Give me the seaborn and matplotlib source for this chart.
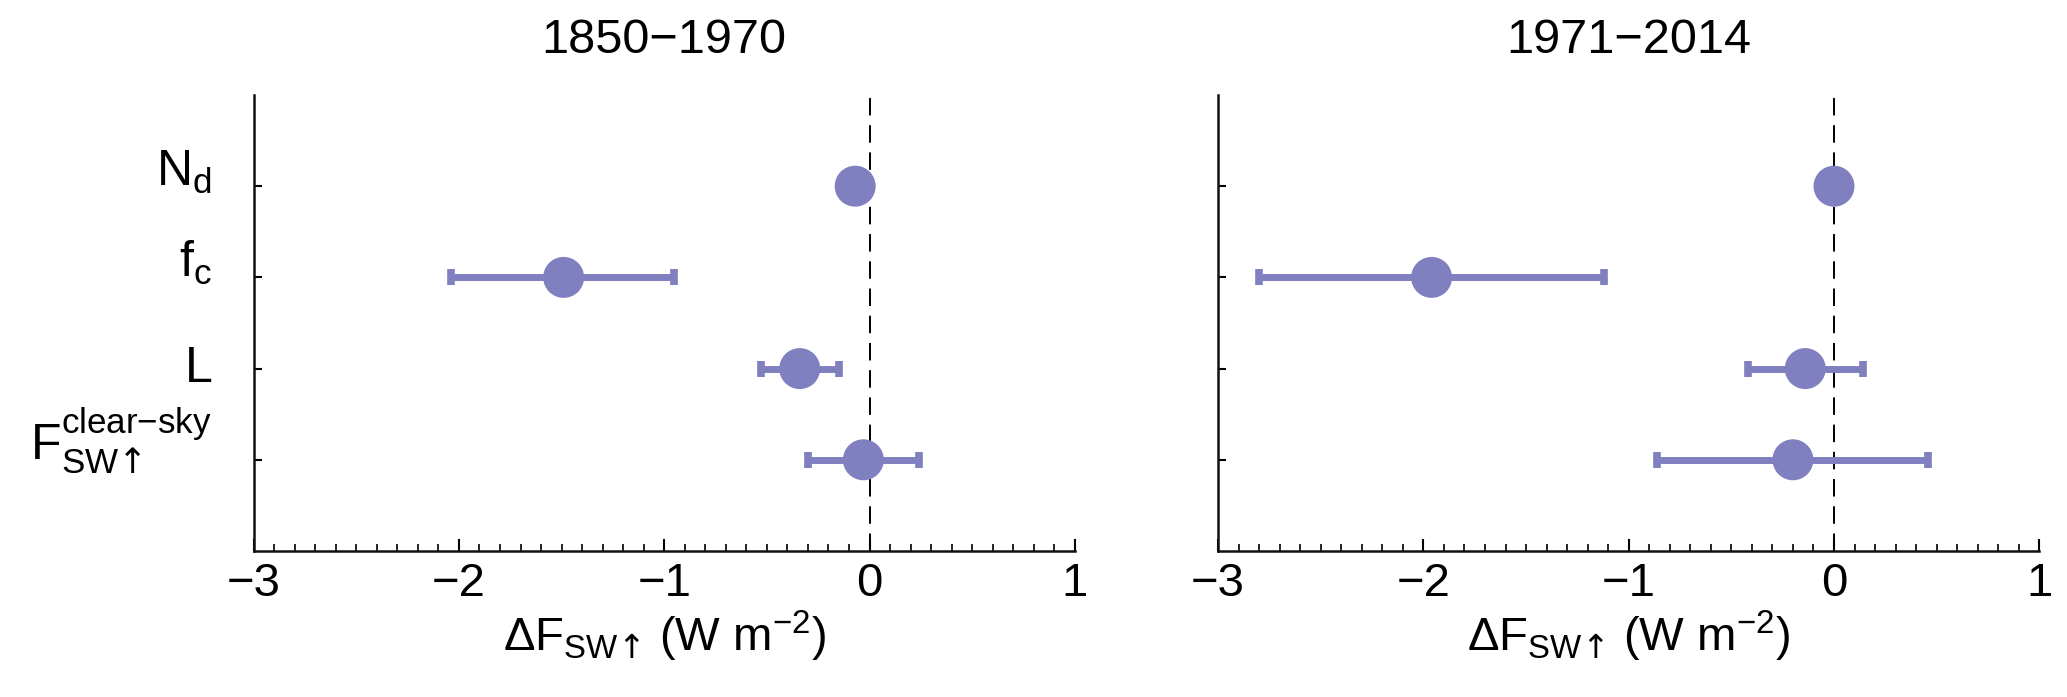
import matplotlib
matplotlib.use("Agg")
import matplotlib.pyplot as plt
import seaborn as sns
import pandas as pd

# ------------------------------------------------------
# DATA
terms = ['$N_d$', '$f_c$', '$L$',
         r'$F^{\text{clear' + '\u2212' + r'sky}}_{SW\mathsf{↑}}$']
periods = ['1850\u22121970', '1971\u22122014']

early_mid = [-0.07, -1.49, -0.34, -0.03]
early_lo = [-0.07, -2.04, -0.53, -0.30]
early_hi = [-0.07, -0.95, -0.15, 0.24]

late_mid = [0.00, -1.96, -0.14, -0.20]
late_lo = [0.00, -2.80, -0.42, -0.86]
late_hi = [0.00, -1.12, 0.14, 0.46]

xticks = [-3, -2, -1, 0, 1]
# ------------------------------------------------------

sns.set_theme(style="ticks")
plt.rcParams['font.family'] = ['Liberation Sans', 'DejaVu Sans']
plt.rcParams['mathtext.fontset'] = 'custom'
plt.rcParams['mathtext.rm'] = 'Liberation Sans'
plt.rcParams['mathtext.it'] = 'Liberation Sans'
plt.rcParams['mathtext.bf'] = 'Liberation Sans:bold'
plt.rcParams['mathtext.sf'] = 'DejaVu Sans'
plt.rcParams['mathtext.default'] = 'regular'
plt.rcParams['axes.unicode_minus'] = True
plt.rcParams['text.color'] = 'black'
plt.rcParams['axes.labelcolor'] = 'black'
plt.rcParams['xtick.color'] = 'black'
plt.rcParams['ytick.color'] = 'black'

col = '#8080C0'
fs = 34

fig = plt.figure(figsize=(20.67, 6.97), dpi=100)
ax1 = fig.add_axes([0.1227, 0.2095, 0.3973, 0.6542])
ax2 = fig.add_axes([0.5893, 0.2095, 0.3973, 0.6542])

panels = [(ax1, early_mid, early_lo, early_hi), (ax2, late_mid, late_lo, late_hi)]

for i, (ax, mid, lo, hi) in enumerate(panels):
    df = pd.DataFrame({'term': terms, 'dF': mid, 'lo': lo, 'hi': hi})
    ax.axvline(0, color='black', lw=1.4, ls=(0, (9, 5)), zorder=1)
    ax.errorbar(df['dF'], df['term'],
                xerr=[df['dF'] - df['lo'], df['hi'] - df['dF']],
                fmt='none', ecolor=col, elinewidth=5, capsize=6, capthick=5.5, zorder=2)
    sns.scatterplot(data=df, x='dF', y='term', ax=ax, color=col, s=29.5 ** 2,
                    edgecolor='none', linewidth=0, zorder=3, legend=False)

    ax.set_xlim(-3, 1)
    ax.set_ylim(4, -1)
    ax.set_xticks(xticks)
    ax.set_xticks([x / 10 for x in range(-30, 11)], minor=True)
    ax.set_yticks(range(len(terms)))
    ax.tick_params(axis='x', which='major', direction='in', length=9, width=1.5,
                   labelsize=fs, pad=8)
    ax.tick_params(axis='x', which='minor', direction='in', length=5, width=1.2)
    ax.tick_params(axis='y', direction='in', length=6, width=1.5, labelsize=36, pad=30)
    if i == 0:
        ax.set_yticklabels(terms)
        for j, lab in enumerate(ax.get_yticklabels()):
            lab.set_va('center' if j == 2 else 'baseline')
    else:
        ax.set_yticklabels([])
    ax.set_xlabel(r'$\Delta F_{SW\mathsf{↑}}$ (W m$^{-2}$)', fontsize=fs, labelpad=2)
    ax.set_ylabel('')
    ax.set_title(periods[i], fontsize=35, pad=30)
    sns.despine(ax=ax)
    for s in ['left', 'bottom']:
        ax.spines[s].set_linewidth(1.8)
        ax.spines[s].set_color('#111111')

plt.savefig("out.png", dpi=100)
